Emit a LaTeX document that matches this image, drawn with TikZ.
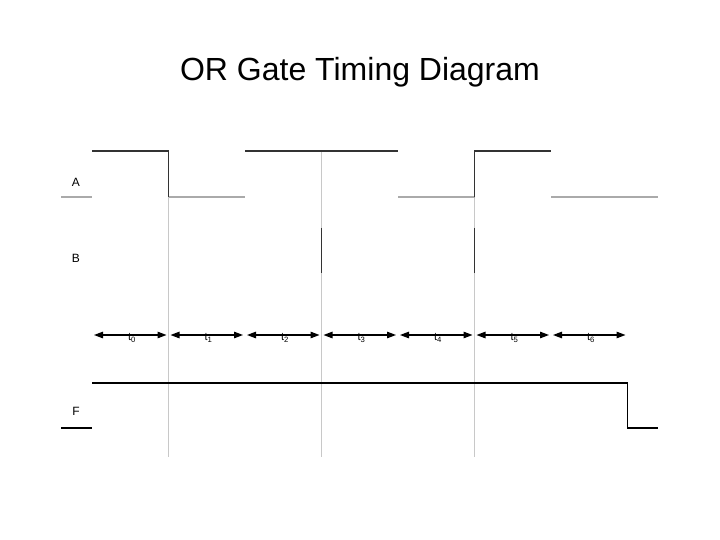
\documentclass[tikz,border=0pt]{standalone}
\usepackage{fontspec}
\setmainfont{Liberation Sans}
\usetikzlibrary{arrows.meta}
\definecolor{sig}{HTML}{333333}
\definecolor{grid}{HTML}{C8C8C8}
\tikzset{
  sigline/.style={draw=sig, line width=1.2pt},
  lowline/.style={draw=grid!85!black, line width=1.2pt},
  gridline/.style={draw=grid, line width=1pt},
  outline/.style={draw=black, line width=1.2pt},
  period/.style={draw=black, line width=1.2pt, {Triangle[length=9pt,width=6.5pt]}-{Triangle[length=9pt,width=6.5pt]}},
  siglabel/.style={font=\fontsize{12}{14}\selectfont, inner sep=0pt},
  tlabel/.style={font=\fontsize{11}{13}\selectfont, inner sep=0pt}
}
\begin{document}
\begin{tikzpicture}[x=1pt,y=-1pt]
\useasboundingbox (0,0) rectangle (720,540);
% column coordinates
\foreach \i/\x in {0/92,1/168.5,2/245,3/321.5,4/398,5/474.5,6/551,7/627.5}{
  \coordinate (c\i) at (\x,0);
}
% title
\node[font=\fontsize{32}{38}\selectfont, anchor=base] (title) at (360,81) {OR Gate Timing Diagram};
% signal labels
\node[siglabel] (lA) at (76,182) {A};
\node[siglabel] (lB) at (76,258) {B};
\node[siglabel] (lF) at (76,411) {F};
% grid lines
\draw[gridline] (168.5,197) -- (168.5,457);
\draw[gridline] (321.5,151) -- (321.5,457);
\draw[gridline] (474.5,197) -- (474.5,457);
% signal A
\draw[lowline] (61,197) -- (92,197);
\draw[sigline] (92,151) -- (168.5,151) -- (168.5,197);
\draw[lowline] (168.5,197) -- (245,197);
\draw[sigline] (245,151) -- (398,151);
\draw[lowline] (398,197) -- (474.5,197);
\draw[sigline] (474.5,197) -- (474.5,151) -- (551,151);
\draw[lowline] (551,197) -- (658,197);
% signal B
\draw[sigline] (321.5,228) -- (321.5,273);
\draw[sigline] (474.5,228) -- (474.5,273);
% period arrows
\foreach \i/\j/\x in {0/1/92,1/2/168.5,2/3/245,3/4/321.5,4/5/398,5/6/474.5,6/7/551}{
  \coordinate (a\i) at (\x+2,335);
  \coordinate (b\i) at (\x+74.5,335);
  \draw[period] (a\i) -- (b\i);
  \node[tlabel] (t\i) at (\x+40,338) {t\textsubscript{\i}};
}
% signal F
\draw[outline] (61,428) -- (92,428);
\draw[outline] (92,383) -- (627.5,383) -- (627.5,428) -- (658,428);
\end{tikzpicture}
\end{document}
